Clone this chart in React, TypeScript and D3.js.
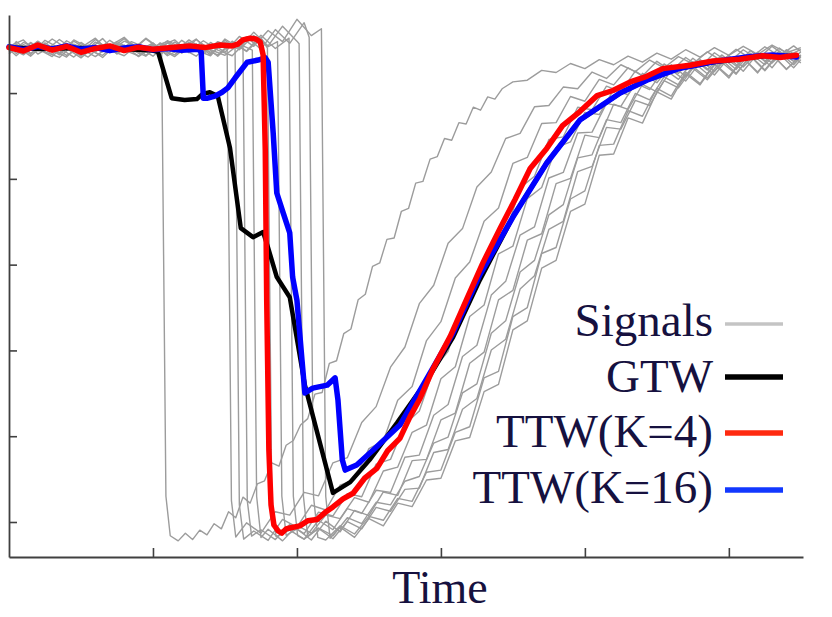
import React, { useEffect, useRef } from "react";
import * as d3 from "d3";

// [time, value] pairs
const signal1 = [[0,111.5],[2,109.2],[4,112.0],[6,110.1],[8,108.4],[10,111.8],[12,109.6],[14,112.3],[16,110.0],[18,108.7],[20,111.4],[21.2,110.2],[21.8,6],[22.4,-3.2],[23.5,-4.4],[24.5,-2.6],[25.5,-4.1],[26.5,-1.9],[27.5,-3.0],[28.5,-0.4],[29.5,-1.6],[30.5,2.4],[31.5,1.0],[32.5,5.8],[33.5,4.4],[34.5,8.9],[35.5,9.6],[36.5,13.8],[37.5,13.0],[38.5,17.9],[39.5,19.0],[40.5,22.6],[41.5,24.1],[42.5,29.8],[43.5,30.2],[44.5,37.0],[45.5,37.6],[46.5,43.9],[47.5,45.0],[48.5,51.8],[49.5,53.1],[50.5,59.6],[51.5,60.4],[52.5,65.9],[53.5,66.2],[54.5,72.4],[55.5,73.1],[56.5,79.0],[57.5,79.4],[58.5,84.6],[59.5,85.2],[60.5,89.4],[61.5,89.0],[62.5,93.1],[63.5,92.8],[64.5,96.7],[65.5,96.0],[66.5,99.1],[67.5,98.6],[68.5,101.0],[70,102.6],[72,103.0],[74,105.3],[76,104.8],[78,106.9],[80,105.7],[82,107.8],[84,106.6],[86,108.6],[88,107.2],[90,109.3],[92,107.9],[94,110.1],[96,108.4],[98,110.6],[100,108.8],[102,110.9],[104,109.0],[106,111.2],[108,109.4],[110,110.6]];
const signal2 = [[0,109.8],[1,110.9],[3,108.6],[5,111.7],[7,109.3],[9,112.1],[11,110.0],[13,108.8],[15,111.5],[17,109.7],[19,112.6],[21,110.3],[23,108.9],[25,111.9],[27,109.5],[29,111.8],[30.3,110.4],[30.9,5],[31.5,-3.5],[33,-0.2],[35,-2.6],[37,2.4],[39,1.6],[41,6.9],[43,6.1],[45,13.8],[47,15.0],[49,23.2],[51,26.9],[53,36.1],[55,40.8],[57,50.9],[59,55.2],[61,65.0],[63,68.4],[65,78.1],[67,81.6],[69,89.4],[71,90.6],[73,96.8],[75,97.1],[77,101.4],[79,101.0],[81,104.9],[83,103.4],[85,106.6],[87,105.0],[89,107.7],[91,105.9],[93,108.5],[95,106.8],[97,109.6],[99,107.5],[101,110.2],[103,108.1],[105,110.8],[107,108.6],[109,111.0],[110,109.7]];
const signal3 = [[0,110.9],[2,112.4],[4,109.1],[6,111.0],[8,108.8],[10,110.6],[12,112.8],[14,109.4],[16,111.2],[18,108.5],[20,110.8],[22,112.0],[24,109.6],[26,111.5],[28,108.9],[30,112.3],[31.4,110.6],[32,4],[32.6,-4.0],[34,-2.1],[36,-4.3],[38,0.6],[40,-1.2],[42,3.9],[44,2.8],[46,8.6],[48,9.9],[50,17.1],[52,18.9],[54,28.4],[56,31.6],[58,42.3],[60,46.7],[62,56.9],[64,60.6],[66,70.1],[68,73.2],[70,83.6],[72,85.0],[74,92.9],[76,93.1],[78,99.2],[80,98.1],[82,103.2],[84,101.9],[86,105.9],[88,104.0],[90,107.4],[92,105.1],[94,108.3],[96,106.0],[98,109.4],[100,107.1],[102,110.1],[104,107.9],[106,110.9],[108,108.5],[110,110.2]];
const signal4 = [[0,110.2],[1,108.7],[3,111.6],[5,109.8],[7,112.5],[9,110.1],[11,108.4],[13,111.3],[15,109.2],[17,112.0],[19,110.6],[21,108.9],[23,111.9],[25,109.7],[27,112.2],[29,110.0],[31,108.7],[32.5,111.2],[33.1,5],[33.7,-3.3],[35,-1.8],[37,-4.1],[39,-0.6],[41,-2.7],[43,2.3],[45,1.4],[47,6.6],[49,5.9],[51,13.5],[53,14.6],[55,22.8],[57,25.9],[59,35.6],[61,39.8],[63,50.7],[65,54.4],[67,64.8],[69,67.3],[71,77.9],[73,80.6],[75,89.2],[77,89.8],[79,96.7],[81,96.1],[83,101.6],[85,100.3],[87,105.1],[89,102.9],[91,106.8],[93,104.6],[95,108.1],[97,105.4],[99,108.9],[101,106.3],[103,109.9],[105,107.4],[107,110.5],[109,108.2],[110,109.6]];
const signal5 = [[0,109.4],[2,111.3],[4,109.9],[6,112.6],[8,110.4],[10,108.2],[12,111.1],[14,109.5],[16,112.1],[18,110.7],[20,108.6],[22,111.7],[24,109.3],[26,112.5],[28,110.1],[30,108.8],[32,111.4],[33.8,110.0],[34.4,6],[35,-3.6],[36,-1.7],[38,-4.4],[40,-0.8],[42,-2.6],[44,1.6],[46,0.8],[48,5.7],[50,4.6],[52,11.9],[54,12.8],[56,20.9],[58,22.6],[60,33.4],[62,36.2],[64,47.9],[66,50.6],[68,62.5],[70,64.3],[72,75.4],[74,78.0],[76,87.3],[78,88.6],[80,95.5],[82,95.0],[84,100.8],[86,99.6],[88,104.6],[90,102.4],[92,106.6],[94,103.9],[96,107.8],[98,105.0],[100,108.7],[102,106.1],[104,109.5],[106,107.0],[108,110.1],[110,108.3]];
const signal6 = [[0,111.0],[1,109.2],[3,111.8],[5,109.6],[7,108.3],[9,111.4],[11,110.0],[13,112.7],[15,109.1],[17,111.6],[19,108.8],[21,110.9],[23,112.4],[25,109.4],[27,111.2],[29,108.6],[31,111.8],[33,109.7],[35,112.9],[35.9,110.5],[36.5,6],[37.1,-3.4],[39,-1.9],[41,-4.0],[43,0.4],[45,-1.8],[47,3.1],[49,2.0],[51,7.4],[53,6.9],[55,15.1],[57,15.6],[59,24.9],[61,27.4],[63,38.6],[65,41.2],[67,52.9],[69,56.1],[71,66.9],[73,68.8],[75,80.2],[77,81.5],[79,90.7],[81,90.9],[83,97.6],[85,96.9],[87,102.3],[89,100.8],[91,105.6],[93,103.2],[95,107.3],[97,104.5],[99,108.4],[101,105.5],[103,109.3],[105,106.6],[107,109.8],[109,107.4],[110,108.9]];
const signal7 = [[0,110.6],[2,108.9],[4,111.5],[6,109.0],[8,112.2],[10,110.3],[12,108.5],[14,111.0],[16,113.0],[18,109.8],[20,111.7],[22,108.7],[24,110.5],[26,112.6],[28,109.2],[30,111.9],[32,110.1],[34,113.4],[36,110.8],[37.3,112.0],[37.9,6],[38.5,-3.1],[40,-1.6],[42,-4.2],[44,0.2],[46,-2.3],[48,2.7],[50,1.5],[52,7.0],[54,6.2],[56,14.3],[58,14.6],[60,23.8],[62,25.4],[64,37.0],[66,39.6],[68,51.8],[70,54.0],[72,65.7],[74,67.2],[76,78.9],[78,80.1],[80,90.2],[82,89.6],[84,97.4],[86,96.2],[88,102.0],[90,100.3],[92,105.4],[94,102.8],[96,107.1],[98,104.2],[100,108.3],[102,105.1],[104,109.2],[106,105.9],[108,110.0],[110,107.0]];
const signal8 = [[0,109.6],[1,111.4],[3,109.0],[5,112.3],[7,110.5],[9,108.4],[11,111.2],[13,109.6],[15,112.0],[17,110.1],[19,108.6],[21,111.7],[23,109.5],[25,112.4],[27,110.2],[29,108.9],[31,112.1],[33,109.8],[35,113.5],[37,110.4],[38.9,112.8],[39.5,6],[40.1,-3.2],[41,-4.0],[43,-1.4],[45,-3.2],[47,1.0],[49,-0.4],[51,4.6],[53,4.0],[55,9.5],[57,10.6],[59,18.4],[61,19.8],[63,30.1],[65,32.2],[67,44.0],[69,46.9],[71,58.3],[73,61.0],[75,71.6],[77,74.0],[79,84.9],[81,85.6],[83,93.8],[85,93.1],[87,99.9],[89,98.4],[91,103.8],[93,101.9],[95,106.2],[97,103.5],[99,107.8],[101,104.6],[103,108.7],[105,105.4],[107,109.5],[109,106.6],[110,108.4]];
const signal9 = [[0,111.3],[2,109.5],[4,112.1],[6,109.7],[8,111.0],[10,108.6],[12,111.9],[14,110.2],[16,112.7],[18,109.3],[20,111.5],[22,109.0],[24,112.3],[26,110.0],[28,108.7],[30,112.6],[32,110.4],[34,114.2],[36,111.0],[38,115.6],[40,112.1],[40.3,111.5],[40.9,6],[41.5,-3.4],[43,-1.5],[45,-3.9],[47,0.1],[49,-1.6],[51,3.4],[53,2.5],[55,7.6],[57,7.9],[59,16.2],[61,16.9],[63,26.3],[65,28.8],[67,40.1],[69,42.6],[71,54.3],[73,57.4],[75,68.2],[77,70.1],[79,81.7],[81,82.9],[83,92.0],[85,91.6],[87,98.3],[89,97.1],[91,102.9],[93,101.2],[95,105.8],[97,103.1],[99,107.2],[101,104.4],[103,108.6],[105,105.2],[107,109.1],[109,105.9],[110,107.8]];
const signal10 = [[0,110.0],[1,112.0],[3,109.3],[5,111.2],[7,108.9],[9,112.4],[11,110.6],[13,108.3],[15,111.5],[17,109.9],[19,112.8],[21,110.4],[23,108.5],[25,111.3],[27,109.1],[29,112.0],[31,110.7],[33,113.1],[35,110.2],[37,114.8],[39,111.6],[41,116.4],[41.7,113.0],[42.3,6],[42.9,-3.6],[44,-4.2],[46,-0.9],[48,-2.8],[50,1.3],[52,0.4],[54,5.5],[56,4.8],[58,11.6],[60,12.1],[62,20.9],[64,22.2],[66,33.6],[68,35.1],[70,47.9],[72,50.0],[74,62.6],[76,64.0],[78,75.3],[80,77.2],[82,87.8],[84,88.1],[86,95.9],[88,94.6],[90,101.1],[92,99.3],[94,104.9],[96,102.2],[98,106.8],[100,103.9],[102,108.1],[104,104.9],[106,108.9],[108,105.6],[110,108.6]];
const signal11 = [[0,109.1],[2,111.8],[4,110.3],[6,108.5],[8,111.6],[10,109.4],[12,112.5],[14,110.0],[16,108.7],[18,111.4],[20,109.8],[22,112.2],[24,110.5],[26,108.6],[28,111.8],[30,109.5],[32,113.2],[34,110.9],[36,114.6],[38,112.0],[40,117.2],[42,113.4],[43.4,115.0],[44,6],[44.6,-3.8],[46,-1.2],[48,-3.6],[50,0.8],[52,-0.9],[54,4.4],[56,3.6],[58,9.8],[60,10.2],[62,18.9],[64,19.7],[66,30.4],[68,32.1],[70,44.8],[72,46.9],[74,59.2],[76,61.0],[78,72.4],[80,74.1],[82,85.5],[84,85.8],[86,94.2],[88,93.0],[90,100.3],[92,98.6],[94,104.5],[96,101.9],[98,106.7],[100,103.5],[102,108.2],[104,104.7],[106,109.1],[108,105.5],[110,108.8]];

const signals = [signal1, signal2, signal3, signal4, signal5, signal6, signal7, signal8, signal9, signal10, signal11];

const gtw = [[0,110.7],[4.3,110.3],[9.9,110.5],[15.4,110.3],[19.6,110],[20.7,109.6],[22.6,98.8],[24.4,98.4],[26.1,98.6],[26.9,99.8],[27.9,100.2],[29,99.3],[30.7,87.2],[32.2,68.5],[33.9,66.4],[35.3,67.6],[36,63.9],[37.2,57.1],[39,52.4],[41.1,31.9],[45,6.8],[47.4,9.3],[50.1,14.5],[53.9,23.1],[58.1,33.1],[61.7,43.1],[65.4,56.4],[70,71.1],[74.7,83.7],[79.3,93.7],[84.9,100],[88.6,103],[93.2,105.8],[97.8,107.2],[102.5,108.2],[106,108.8],[109.4,108.6]];

const ttwK4 = [[0,110.6],[2,109.8],[4,111.2],[6,110.0],[8,110.9],[10,109.5],[12,110.4],[14,111.0],[16,109.9],[18,110.7],[20,110.2],[23,110.7],[25.1,111],[27.2,110.6],[29.3,111.2],[31,111],[31.8,111.4],[32.5,112.4],[33.5,112.8],[34.3,112.6],[34.9,111.9],[35.3,108.9],[35.6,86.7],[35.8,51.7],[36.1,16.8],[36.4,4],[36.8,-0.7],[37.4,-2.1],[37.9,-2.6],[38.5,-1.6],[39,-1.4],[40.4,-0.9],[41.5,0.3],[42.8,0.6],[43.9,2.2],[45,3.5],[46.4,5.4],[47.8,6.7],[49.4,10.2],[51.1,12.5],[52.6,16.6],[54.3,19.5],[55.7,24.5],[57.1,28.8],[58.9,35.7],[61.3,43.3],[63.6,52.0],[65.8,60.3],[68.2,68.4],[70.3,75.2],[72.4,82.4],[74.7,87.1],[76.9,92.4],[79.3,95.7],[81.7,99.4],[83.9,100.6],[86.3,102.6],[88.6,103.9],[90.8,105.7],[94.6,106.5],[97.8,107.5],[101.5,107.9],[104.7,108.7],[107.1,108.3],[109.4,108.8]];

const ttwK16 = [[0,110.8],[2,110.1],[4,110.9],[6,110.3],[8,111.0],[10,110.2],[12,110.6],[14,109.9],[16,110.5],[18,110.8],[20,110.1],[22,110.4],[24,110.0],[26.3,110.2],[26.7,109.6],[27,98.8],[27.6,98.8],[28.6,99.3],[29.6,100.2],[30.4,101.2],[31.4,103.5],[33.1,107.2],[34.6,107.7],[35.6,108.2],[36,107.2],[36.7,90.7],[37.2,76.7],[38.1,72],[39,67.4],[39.4,57.1],[40,51.7],[40.7,37.8],[41.1,30.1],[42.2,31.2],[44.2,31.9],[45.3,33.6],[45.7,28.4],[46.3,14.5],[46.7,12.1],[48.3,13.3],[50.6,16.8],[54.3,22.6],[58.1,33.6],[61.7,44.1],[65.4,57.6],[70,71.1],[74.7,83.7],[79.3,93.7],[84.9,100],[88.6,103],[93.2,105.8],[97.8,107.3],[102.5,108.4],[106,108.9],[109.4,108.4]];

const xTicks = [20, 40, 60, 80, 100];
const yTicks = [0, 20, 40, 60, 80, 100];

const legendItems = [
  { label: "Signals", color: "#c4c4c4", width: 3.5 },
  { label: "GTW", color: "#000000", width: 5.5 },
  { label: "TTW(K=4)", color: "#ff2a10", width: 5.5 },
  { label: "TTW(K=16)", color: "#1238ff", width: 5.5 },
];

const App: React.FC = () => {
  const svgRef = useRef<SVGSVGElement | null>(null);

  useEffect(() => {
    const width = 832;
    const height = 617;

    const svg = d3.select(svgRef.current);
    svg.selectAll("*").remove();
    svg.attr("width", width).attr("height", height);

    const x = d3.scaleLinear().domain([0, 110.3]).range([9, 803]);
    const y = d3.scaleLinear().domain([-8.16, 118.2]).range([557, 15]);

    const line = d3
      .line<number[]>()
      .x(d => x(d[0]))
      .y(d => y(d[1]));

    // Signals
    svg
      .append("g")
      .selectAll("path")
      .data(signals)
      .join("path")
      .attr("d", d => line(d))
      .attr("fill", "none")
      .attr("stroke", "#9c9c9c")
      .attr("stroke-width", 1.4)
      .attr("stroke-linejoin", "round");

    const series = [
      { data: gtw, color: "#000000", w: 4.5 },
      { data: ttwK16, color: "#0000ff", w: 5.5 },
      { data: ttwK4, color: "#ff0000", w: 5.5 },
    ];

    svg
      .append("g")
      .selectAll("path")
      .data(series)
      .join("path")
      .attr("d", d => line(d.data))
      .attr("fill", "none")
      .attr("stroke", d => d.color)
      .attr("stroke-width", d => d.w)
      .attr("stroke-linejoin", "round")
      .attr("stroke-linecap", "round");

    // Axes
    svg
      .append("g")
      .attr("transform", `translate(9,0)`)
      .call(d3.axisLeft(y).tickValues(yTicks).tickSize(-8).tickSizeOuter(0).tickFormat(() => ""))
      .call(g => g.selectAll("line").attr("stroke", "#404040").attr("stroke-width", 1.6))
      .call(g => g.select(".domain").attr("stroke", "#404040").attr("stroke-width", 1.8));

    svg
      .append("g")
      .attr("transform", `translate(0,557)`)
      .call(d3.axisBottom(x).tickValues(xTicks).tickSize(-9).tickSizeOuter(0).tickFormat(() => ""))
      .call(g => g.selectAll("line").attr("stroke", "#404040").attr("stroke-width", 1.6))
      .call(g => g.select(".domain").attr("stroke", "#404040").attr("stroke-width", 1.8));

    svg
      .append("text")
      .attr("x", 440)
      .attr("y", 603)
      .attr("text-anchor", "middle")
      .attr("font-family", "'Liberation Serif', 'Times New Roman', serif")
      .attr("font-size", 46)
      .attr("fill", "#16113f")
      .text("Time");

    // Legend
    const legend = svg.append("g");
    const baselines = [336, 392, 447, 503];
    const lineYs = [324, 377, 433, 490];

    legendItems.forEach((item, i) => {
      legend
        .append("text")
        .attr("x", 713)
        .attr("y", baselines[i])
        .attr("text-anchor", "end")
        .attr("font-family", "'Liberation Serif', 'Times New Roman', serif")
        .attr("font-size", 47)
        .attr("fill", "#16113f")
        .text(item.label);

      legend
        .append("line")
        .attr("x1", 725)
        .attr("x2", 783)
        .attr("y1", lineYs[i])
        .attr("y2", lineYs[i])
        .attr("stroke", item.color)
        .attr("stroke-width", item.width);
    });
  }, []);

  return (
    <svg
      ref={svgRef}
      style={{ position: "absolute", left: 0, top: 0, background: "#ffffff" }}
    ></svg>
  );
};

export default App;
